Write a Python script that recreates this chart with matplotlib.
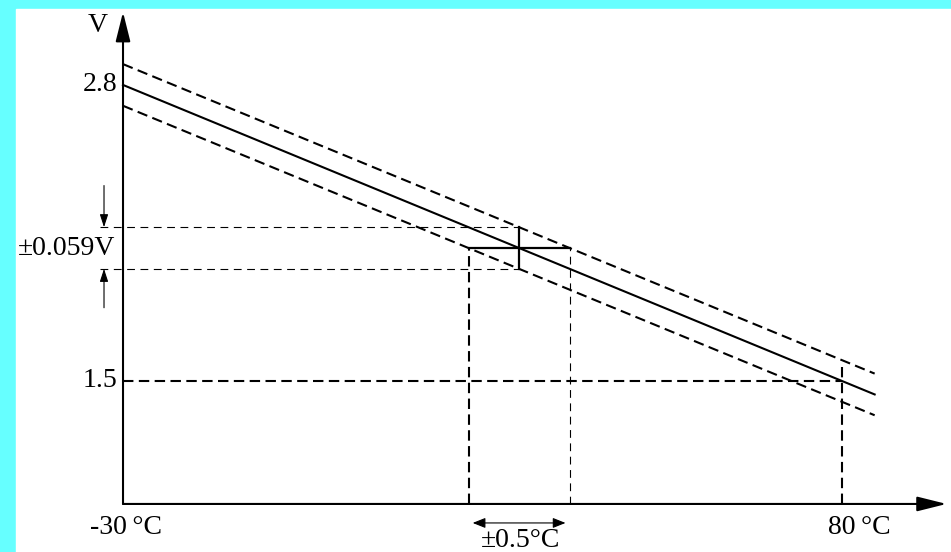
import numpy as np
import matplotlib.pyplot as plt
from matplotlib.patches import Rectangle
from matplotlib.transforms import offset_copy

plt.rcParams['font.family'] = ['Liberation Serif', 'DejaVu Serif']
plt.rcParams['font.size'] = 20

# sensor output: voltage vs temperature
temps = [-30, 80]
volts = [2.8, 1.5]
t_ref = 30.6            # where the tolerance cross is drawn
dv_label = '±0.059V'
dt_label = '±0.5°C'
dv = 0.059
band_scale = 1.55       # tolerance band drawn exaggerated so it stays visible

t_end = 85              # lines run a bit past 80 °C
v_axis = 0.96           # temperature axis sits here
t_axis_end = 96
v_axis_end = 3.12

slope = (volts[1] - volts[0]) / (temps[1] - temps[0])


def v_of(t):
    return volts[0] + slope * (np.asarray(t) - temps[0])


band = dv * band_scale
dt = band / abs(slope)
tc, vc = t_ref, float(v_of(t_ref))

fig = plt.figure(figsize=(9.51, 5.52), dpi=100, facecolor='#66ffff')
fig.add_artist(Rectangle((16 / 951, 0), 1, 543 / 552, transform=fig.transFigure,
                         color='white', zorder=-1))
ax = fig.add_axes([0, 0, 1, 1])
ax.patch.set_alpha(0)
ax.set_xlim(-48.82, 96.68)
ax.set_ylim(0.749, 3.173)
ax.axis('off')

thick = (0, (5, 2.6))
thin = (0, (7, 5))

# characteristic line and tolerance band
ts = np.array([temps[0], t_end])
ax.plot(ts, v_of(ts), color='k', lw=1.5)
ax.plot(ts, v_of(ts) + band, color='k', lw=1.5, ls=thick)
ax.plot(ts, v_of(ts) - band, color='k', lw=1.5, ls=thick)

# tolerance cross
ax.plot([tc - dt, tc + dt], [vc, vc], color='k', lw=1.6)
ax.plot([tc, tc], [vc - band, vc + band], color='k', lw=1.6)

# guide lines
lead = 3.5
for v in (vc + band, vc - band):
    ax.plot([temps[0] - lead, tc], [v, v], color='k', lw=0.8, ls=thin)
ax.plot([tc - dt, tc - dt], [v_axis, vc], color='k', lw=1.5, ls=thick)
ax.plot([tc + dt, tc + dt], [v_axis, vc], color='k', lw=0.8, ls=thin)
ax.plot([temps[0], temps[1]], [volts[1], volts[1]], color='k', lw=1.5, ls=thick)
ax.plot([temps[1], temps[1]], [v_axis, volts[1] + 0.06], color='k', lw=1.5, ls=thick)

# axes with arrow heads
big = dict(arrowstyle='-|>,head_length=0.6,head_width=0.15', mutation_scale=30,
           lw=1.5, color='k', shrinkA=0, shrinkB=0)
ax.annotate('', xy=(t_axis_end, v_axis), xytext=(temps[0], v_axis), arrowprops=big)
ax.annotate('', xy=(temps[0], v_axis_end), xytext=(temps[0], v_axis), arrowprops=big)

# voltage tolerance arrows
small = dict(arrowstyle='-|>,head_length=0.55,head_width=0.18', mutation_scale=14,
             lw=0.8, color='k', shrinkA=0, shrinkB=0)
left = offset_copy(ax.transData, fig=fig, x=-19, y=0, units='dots')
ax.annotate('', xy=(temps[0], vc + band), xycoords=left,
            xytext=(0, 30), textcoords='offset points', arrowprops=small)
ax.annotate('', xy=(temps[0], vc - band), xycoords=left,
            xytext=(0, -28), textcoords='offset points', arrowprops=small)

# temperature tolerance arrow
below = offset_copy(ax.transData, fig=fig, x=0, y=-19, units='dots')
ax.annotate('', xy=(tc + dt, v_axis), xycoords=below,
            xytext=(tc - dt, v_axis), textcoords=below,
            arrowprops=dict(arrowstyle='<|-|>,head_length=0.55,head_width=0.22',
                            mutation_scale=14, lw=0.8, color='k',
                            shrinkA=3, shrinkB=3))

# labels
def label(text, xy, off, ha, va='center'):
    ax.annotate(text, xy=xy, xytext=off, textcoords='offset points', ha=ha, va=va)


label('V', (temps[0], v_axis_end), (-11, -9.5), 'right')
label('2.8', (temps[0], volts[0]), (-4, 0), 'right')
label('1.5', (temps[0], volts[1]), (-4, 0), 'right')
label(dv_label, (temps[0], vc), (-5.5, 0), 'right')
label('-30\u2009°C', (temps[0], v_axis), (-24, -17), 'left')
label('80\u2009°C', (temps[1], v_axis), (-10, -17), 'left')
label(dt_label, (tc, v_axis), (1, -26), 'center')

fig.savefig('out.png', dpi=100, facecolor=fig.get_facecolor())
